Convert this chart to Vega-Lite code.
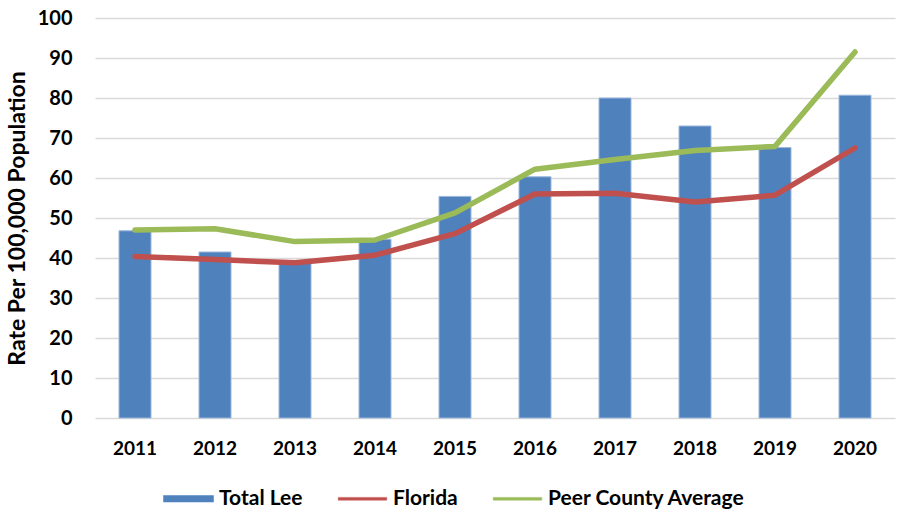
{
  "$schema": "https://vega.github.io/schema/vega-lite/v6.json",
  "width": 800,
  "height": 400,
  "autosize": "none",
  "padding": {"left": 95, "top": 18, "right": 8, "bottom": 94},
  "background": "white",
  "config": {
    "view": {"stroke": null},
    "font": "Lato",
    "axis": {"labelFont": "Lato", "titleFont": "Lato", "labelColor": "#000000", "titleColor": "#000000"}
  },
  "data": {
    "values": [
      {"year": "2011", "series": "Total Lee", "value": 46.8},
      {"year": "2012", "series": "Total Lee", "value": 41.5},
      {"year": "2013", "series": "Total Lee", "value": 39.2},
      {"year": "2014", "series": "Total Lee", "value": 44.7},
      {"year": "2015", "series": "Total Lee", "value": 55.4},
      {"year": "2016", "series": "Total Lee", "value": 60.3},
      {"year": "2017", "series": "Total Lee", "value": 80.0},
      {"year": "2018", "series": "Total Lee", "value": 73.0},
      {"year": "2019", "series": "Total Lee", "value": 67.6},
      {"year": "2020", "series": "Total Lee", "value": 80.7},
      {"year": "2011", "series": "Florida", "value": 40.4},
      {"year": "2012", "series": "Florida", "value": 39.6},
      {"year": "2013", "series": "Florida", "value": 38.8},
      {"year": "2014", "series": "Florida", "value": 40.7},
      {"year": "2015", "series": "Florida", "value": 46.1},
      {"year": "2016", "series": "Florida", "value": 56.0},
      {"year": "2017", "series": "Florida", "value": 56.2},
      {"year": "2018", "series": "Florida", "value": 54.0},
      {"year": "2019", "series": "Florida", "value": 55.7},
      {"year": "2020", "series": "Florida", "value": 67.5},
      {"year": "2011", "series": "Peer County Average", "value": 47.0},
      {"year": "2012", "series": "Peer County Average", "value": 47.3},
      {"year": "2013", "series": "Peer County Average", "value": 44.1},
      {"year": "2014", "series": "Peer County Average", "value": 44.5},
      {"year": "2015", "series": "Peer County Average", "value": 51.3},
      {"year": "2016", "series": "Peer County Average", "value": 62.2},
      {"year": "2017", "series": "Peer County Average", "value": 64.6},
      {"year": "2018", "series": "Peer County Average", "value": 66.9},
      {"year": "2019", "series": "Peer County Average", "value": 67.9},
      {"year": "2020", "series": "Peer County Average", "value": 91.5}
    ]
  },
  "encoding": {
    "x": {
      "field": "year",
      "type": "nominal",
      "sort": null,
      "scale": {"paddingInner": 0.6, "paddingOuter": 0.3},
      "axis": {
        "title": null,
        "labelAngle": 0,
        "domain": false,
        "ticks": false,
        "grid": false,
        "labelFontSize": 19,
        "labelFontWeight": "bold",
        "labelPadding": 21
      }
    },
    "y": {
      "field": "value",
      "type": "quantitative",
      "scale": {"domain": [0, 100], "nice": false},
      "axis": {
        "title": "Rate Per 100,000 Population",
        "titleFontSize": 23,
        "titleFontWeight": "bold",
        "titlePadding": 8,
        "values": [0, 10, 20, 30, 40, 50, 60, 70, 80, 90, 100],
        "domain": false,
        "ticks": false,
        "labelFontSize": 20,
        "labelFontWeight": "bold",
        "labelPadding": 23,
        "gridColor": "#d9d9d9",
        "gridWidth": 1.5
      }
    },
    "color": {
      "field": "series",
      "type": "nominal",
      "scale": {
        "domain": ["Total Lee", "Florida", "Peer County Average"],
        "range": ["#4f81bd", "#c0504d", "#9bbb59"]
      },
      "legend": {
        "title": null,
        "orient": "none",
        "direction": "horizontal",
        "legendX": 68,
        "legendY": 455,
        "padding": 0,
        "labelFont": "Lato",
        "labelFontSize": 21,
        "labelFontWeight": "bold",
        "labelColor": "#000000",
        "labelLimit": 0,
        "labelOffset": 5,
        "columnPadding": 34,
        "symbolSize": 2500,
        "symbolStrokeWidth": 0,
        "encode": {
          "symbols": {
            "update": {
              "shape": {"signal": "datum.value === 'Total Lee' ? 'M-1,-0.13H1V0.13H-1Z' : 'M-0.97,-0.055H0.97V0.055H-0.97Z'"},
              "fill": {"signal": "scale('color', datum.value)"},
              "stroke": {"signal": "scale('color', datum.value)"},
              "strokeWidth": {"value": 0.5},
              "opacity": {"value": 1},
              "fillOpacity": {"value": 1}
            }
          }
        }
      }
    }
  },
  "layer": [
    {
      "transform": [{"filter": "datum.series === 'Total Lee'"}],
      "mark": {"type": "bar", "stroke": "#9bb7dc", "strokeWidth": 1}
    },
    {
      "transform": [{"filter": "datum.series !== 'Total Lee'"}],
      "mark": {"type": "line", "strokeWidth": 5.5, "strokeCap": "round", "strokeJoin": "round"}
    }
  ]
}
